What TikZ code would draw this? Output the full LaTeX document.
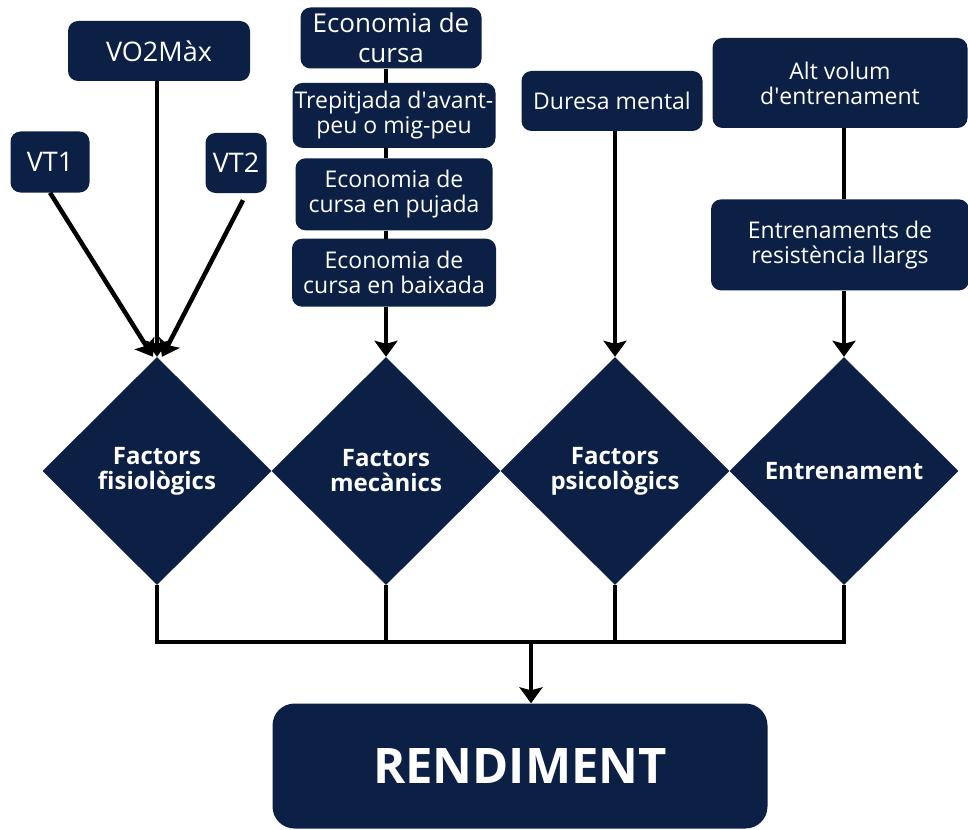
\documentclass[tikz,border=0pt]{standalone}
\usepackage{fontspec}
\setmainfont{Open Sans}
\usetikzlibrary{arrows.meta,positioning,shapes.geometric}
\definecolor{fosc}{RGB}{12,31,69}
\tikzset{
    %Define standard arrow tip
    >={Stealth[length=16pt,width=23pt,inset=3pt]},
    %Define style for boxes
    caixa/.style={
           rectangle,
           rounded corners=10pt,
           fill=fosc,
           text=white,
           align=center,
           inner sep=2pt,
           font=\fontsize{23}{25}\selectfont},
    rombe/.style={
           diamond,
           fill=fosc,
           text=white,
           inner sep=0pt,
           minimum width=229pt,
           minimum height=228pt,
           align=center,
           font=\bfseries\fontsize{24}{25}\selectfont},
    % Define arrow style
    fletxa/.style={
           ->,
           line width=4.5pt},
    linia/.style={line width=4.5pt}
}
\begin{document}
\begin{tikzpicture}[x=1pt,y=-1pt]
\useasboundingbox (0,0) rectangle (968,829);
 %nodes
\node[caixa, minimum width=182pt, minimum height=60pt, font=\fontsize{27}{29}\selectfont](vo2) at (159,51){VO2Màx};
\node[caixa, minimum width=79pt, minimum height=61pt, font=\fontsize{27}{29}\selectfont](vt1) at (50,162){VT1};
\node[caixa, minimum width=61pt, minimum height=60pt, font=\fontsize{27}{29}\selectfont](vt2) at (236,163){VT2};
\node[caixa, minimum width=181pt, minimum height=61pt, font=\fontsize{26}{30}\selectfont](eco) at (391,38){Economia de\\cursa};
\node[caixa, minimum width=203pt, minimum height=65pt, below=14pt of eco, xshift=3pt](trep){Trepitjada d\textquotesingle avant-\\peu o mig-peu};
\node[caixa, minimum width=197pt, minimum height=72pt, below=10pt of trep](puj){Economia de\\cursa en pujada};
\node[caixa, minimum width=204pt, minimum height=68pt, below=8pt of puj](baix){Economia de\\cursa en baixada};
\node[caixa, minimum width=181pt, minimum height=60pt](dur) at (612,101){Duresa mental};
\node[caixa, minimum width=255pt, minimum height=90pt](alt) at (840,83){Alt volum\\d\textquotesingle entrenament};
\node[caixa, minimum width=258pt, minimum height=91pt, below=71pt of alt](llargs){Entrenaments de\\resistència llargs};
\node[rombe](fis) at (157,471){Factors\\fisiològics};
\node[rombe](mec) at (386,471){Factors\\mecànics};
\node[rombe](psi) at (615,471){Factors\\psicològics};
\node[rombe](ent) at (844,471){Entrenament};
\node[caixa, rounded corners=22pt, minimum width=495pt, minimum height=125pt, font=\bfseries\fontsize{49}{52}\selectfont](rend) at (520,766){RENDIMENT};
\coordinate (unio) at (531,642);
 %arrows
\draw[fletxa] (vo2.south -| fis.north) -- (fis.north);
\draw[fletxa] (vt1.south) -- ([xshift=-4pt]fis.north);
\draw[fletxa] ([shift={(7,7)}]vt2.south) -- ([xshift=5pt]fis.north);
\draw[linia] (eco.south -| mec.north) -- (trep.north -| mec.north)
             (trep.south -| mec.north) -- (puj.north -| mec.north)
             (puj.south -| mec.north) -- (baix.north -| mec.north);
\draw[fletxa] (baix.south -| mec.north) -- (mec.north);
\draw[fletxa] (dur.south -| psi.north) -- (psi.north);
\draw[linia] (alt.south -| ent.north) -- (llargs.north -| ent.north);
\draw[fletxa] (llargs.south -| ent.north) -- (ent.north);
\draw[linia] (fis.south) |- (ent.south |- unio) -- (ent.south);
\draw[linia] (mec.south) -- (mec.south |- unio);
\draw[linia] (psi.south) -- (psi.south |- unio);
\draw[fletxa] (unio) -- (unio |- rend.north);
\end{tikzpicture}
\end{document}
